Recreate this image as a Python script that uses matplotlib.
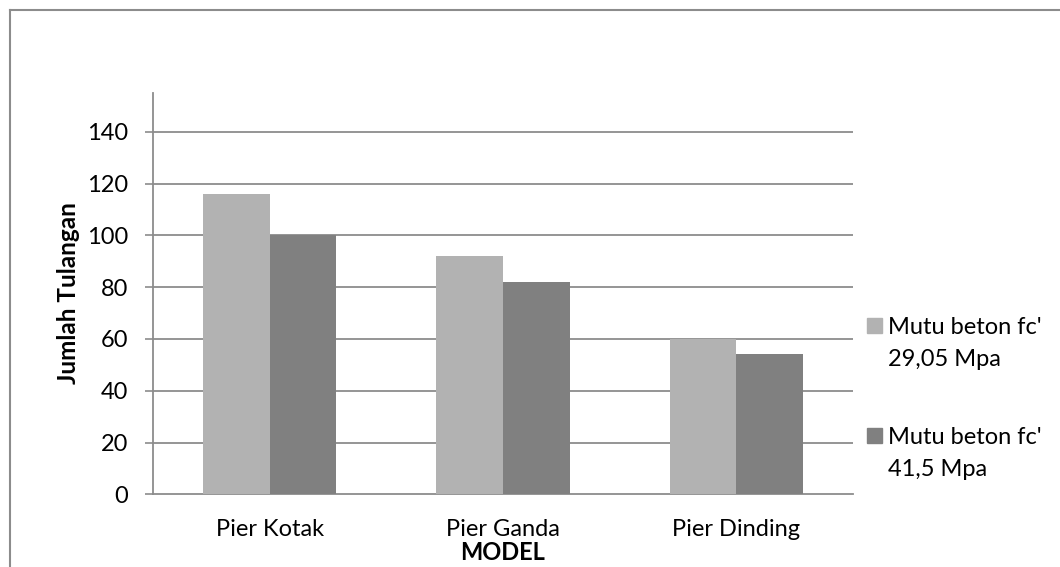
import matplotlib
matplotlib.use("Agg")
import matplotlib.pyplot as plt
from matplotlib.patches import Rectangle
from matplotlib.lines import Line2D
import numpy as np

plt.rcParams['font.family'] = ['Lato', 'DejaVu Sans']

categories = ["Pier Kotak", "Pier Ganda", "Pier Dinding"]
series_names = ["Mutu beton fc'\n29,05 Mpa", "Mutu beton fc'\n41,5 Mpa"]
values_2905 = [116, 92, 60]
values_415 = [100, 82, 54]
y_ticks = [0, 20, 40, 60, 80, 100, 120, 140]

colors = ["#B2B2B2", "#808080"]
grid_color = "#8C8C8C"
fs = 17

W, H = 1060, 567
fig = plt.figure(figsize=(W / 100, H / 100), dpi=100)

# chart-area frame (left and top edges visible)
fig.add_artist(Line2D([10 / W, 10 / W], [0, 1 - 10 / H], transform=fig.transFigure,
                      color="#8C8C8C", lw=1.5))
fig.add_artist(Line2D([10 / W, 1], [1 - 10 / H, 1 - 10 / H], transform=fig.transFigure,
                      color="#8C8C8C", lw=1.5))

ax = fig.add_axes([153 / W, 72.7 / H, 700 / W, 401.6 / H])

x = np.arange(len(categories))
bw = 0.2857
ax.bar(x - bw / 2, values_2905, width=bw, color=colors[0], zorder=3)
ax.bar(x + bw / 2, values_415, width=bw, color=colors[1], zorder=3)

ax.set_xlim(-0.5, len(categories) - 0.5)
ax.set_ylim(0, 155.1)
ax.set_yticks(y_ticks)
ax.set_yticklabels([str(t) for t in y_ticks], fontsize=fs)
ax.set_xticks(x)
ax.set_xticklabels(categories, fontsize=fs)
ax.tick_params(axis='x', length=0, pad=17.5)
ax.tick_params(axis='y', length=6, width=1.2, color=grid_color, pad=12, direction='out')

for t in y_ticks[1:]:
    ax.axhline(t, color=grid_color, lw=1.3, zorder=1)

for s in ["top", "right"]:
    ax.spines[s].set_visible(False)
for s in ["left", "bottom"]:
    ax.spines[s].set_color(grid_color)
    ax.spines[s].set_linewidth(1.3)

ax.set_ylabel("Jumlah Tulangan", fontsize=17.5, fontweight="bold", labelpad=4.5)
fig.text(503 / W, 1 - 553 / H, "MODEL", fontsize=fs, fontweight="bold",
         ha="center", va="center")

# legend: square marker beside a two-line label
legend_y = [325, 435]
line_gap = 32
for name, col, yc in zip(series_names, colors, legend_y):
    fig.add_artist(Rectangle((867 / W, 1 - (yc + 7.5) / H), 15 / W, 15 / H,
                             transform=fig.transFigure, color=col))
    for i, line in enumerate(name.split("\n")):
        fig.text(888 / W, 1 - (yc + i * line_gap) / H, line, fontsize=fs,
                 ha="left", va="center_baseline")

fig.savefig("out.png", dpi=100)
